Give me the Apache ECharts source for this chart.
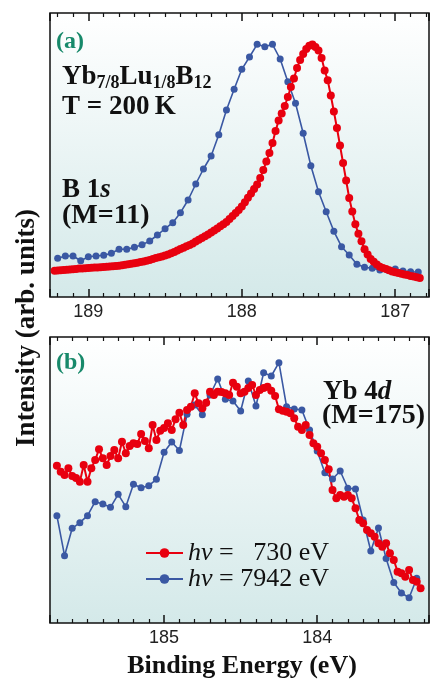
<!DOCTYPE html>
<html><head><meta charset="utf-8">
<script src="https://cdn.jsdelivr.net/npm/echarts@6/dist/echarts.min.js"></script>
<style>html,body{margin:0;padding:0;background:#fff}#c{width:436px;height:682px}</style>
</head><body><div id="c"></div>
<script>
// ---- Panel (a): B 1s ----
const energyA_blue = [189.2,189.15,189.1,189.05,189,188.95,188.9,188.85,188.8,188.75,
188.7,188.65,188.6,188.55,188.5,188.45,188.4,188.35,188.3,188.25,
188.2,188.15,188.1,188.05,188,187.95,187.9,187.85,187.8,187.75,
187.7,187.65,187.6,187.55,187.5,187.45,187.4,187.35,187.3,187.25,
187.2,187.15,187.1,187.05,187,186.95,186.9,186.85];
const intensityA_blue = [38.7,41,41,36.3,40.3,41,41.7,43.7,47.7,47.7,
49.7,52.3,56,62,68.3,74.3,84.3,97,113,128,
141,162.3,187,207.7,227.7,240,252.7,250.3,252.7,238,
215.3,193.7,163.7,131.3,105.3,85.3,65.7,50.3,42,32.7,
29.7,28.7,27,27,28,26,25.3,25];
const energyA_red = [189.22,189.2,189.18,189.16,189.14,189.12,189.1,189.08,189.06,189.04,
189.02,189,188.98,188.96,188.94,188.92,188.9,188.88,188.86,188.84,
188.82,188.8,188.78,188.76,188.74,188.72,188.7,188.68,188.66,188.64,
188.62,188.6,188.58,188.56,188.54,188.52,188.5,188.48,188.46,188.44,
188.42,188.4,188.38,188.36,188.34,188.32,188.3,188.28,188.26,188.24,
188.22,188.2,188.18,188.16,188.14,188.12,188.1,188.08,188.06,188.04,
188.02,188,187.98,187.96,187.94,187.92,187.9,187.88,187.86,187.84,
187.82,187.8,187.78,187.76,187.74,187.72,187.7,187.68,187.66,187.64,
187.62,187.6,187.58,187.56,187.54,187.52,187.5,187.48,187.46,187.44,
187.42,187.4,187.38,187.36,187.34,187.32,187.3,187.28,187.26,187.24,
187.22,187.2,187.18,187.16,187.14,187.12,187.1,187.08,187.06,187.04,
187.02,187,186.98,186.96,186.94,186.92,186.9,186.88,186.86,186.84];
const intensityA_red = [26.3,26.5,26.7,27,27.3,27.5,27.8,28.1,28.4,28.6,
28.8,29,29.2,29.4,29.6,29.8,30.1,30.3,30.5,30.7,
31,31.3,31.8,32.3,32.8,33.3,33.8,34.3,34.9,35.5,
36.3,37.1,38,38.9,39.8,40.6,41.5,42.5,43.8,45.1,
46.5,47.9,49.3,50.8,52,53.6,55.4,57.2,59,60.8,
62.6,64.4,66.5,68.6,70.7,72.8,75,78,81,84,
87,90.5,94.8,99.2,103.5,108,112.5,119,127,135.5,
144,154,166,176.5,183.5,191,200,210,218.5,229,
237,243,248,251.3,252.6,250,246.5,239,226.5,216.7,
201.5,185.5,169,151.5,134,116.5,99,85.5,72.7,63.3,
55.7,47.7,42.5,38,35.3,32.5,30.3,29,27.9,26.8,
25.6,24.8,24,23.3,22.6,21.9,21.1,20.4,19.7,19.1];

// ---- Panel (b): Yb 4d ----
const energyB_blue = [185.7,185.65,185.6,185.55,185.5,185.45,185.4,185.35,185.3,185.25,
185.2,185.15,185.1,185.05,185,184.95,184.9,184.85,184.8,184.75,
184.7,184.65,184.6,184.55,184.5,184.45,184.4,184.35,184.3,184.25,
184.2,184.15,184.1,184.05,184,183.95,183.9,183.85,183.8,183.75,
183.7,183.65,183.6,183.55,183.5,183.45,183.4,183.35];
const intensityB_blue = [107.3,67.3,94.7,100.3,107.3,121.3,119,115.7,128.7,116.3,
138.7,135.3,137.3,143.7,170.7,181,172.5,208.7,218,208.3,
228,244,223.7,222,212,242,217,250.3,247,260.3,
216.3,214,213,193,172,150.3,144,152,134.7,134,
103,72,95,64.5,40.5,30,25.3,44.7];
const energyB_red = [185.7,185.675,185.65,185.625,185.6,185.575,185.55,185.525,185.5,185.475,
185.45,185.425,185.4,185.375,185.35,185.325,185.3,185.275,185.25,185.225,
185.2,185.175,185.15,185.125,185.1,185.075,185.05,185.025,185,184.975,
184.95,184.925,184.9,184.875,184.85,184.825,184.8,184.775,184.75,184.725,
184.7,184.675,184.65,184.625,184.6,184.575,184.55,184.525,184.5,184.475,
184.45,184.425,184.4,184.375,184.35,184.325,184.3,184.275,184.25,184.225,
184.2,184.175,184.15,184.125,184.1,184.075,184.05,184.025,184,183.975,
183.95,183.925,183.9,183.875,183.85,183.825,183.8,183.775,183.75,183.725,
183.7,183.675,183.65,183.625,183.6,183.575,183.55,183.525,183.5,183.475,
183.45,183.425,183.4,183.375,183.35,183.325];
const intensityB_red = [157.3,151.3,148,154.7,147,145,141.3,158,141.3,154.7,
163,173.7,164.7,158,167,173,164.7,181.3,169.7,177,
179.7,179,189,182,174.7,198,183,192.3,195,199.7,
193,203.7,210.3,198,213,216.3,229.7,219.7,214.7,220.3,
231.3,228,231.3,231,229.7,228,240.3,236.3,229.7,231.3,
235,238,228,233,235,236.3,232.3,227,213.7,212.3,
211.3,209.7,204.7,196.3,193,198,188,179.7,176.3,169.7,
163,153.7,133,124.7,128,126.3,128,124.7,114.7,103,
99.7,93,89.7,86.3,79.7,76.3,79.7,69.7,63,51.3,
49.7,46.3,53,43,41.3,34.7];

const tickLabelsA = ['189','188','187'];
const tickLabelsB = ['185','184'];
const photonEnergies = ['730','7942'];

const RED = '#e8000f', BLUE = '#3a58a3';
const SERIF = 'Liberation Serif';

const chart = echarts.init(document.getElementById('c'), null, {renderer:'canvas'});
const bg = () => new echarts.graphic.LinearGradient(0,0,0,1,[{offset:0,color:'#ffffff'},{offset:1,color:'#d4e9e9'}]);

function xAx(grid, min, max, pos, labels) {
  return {
    type:'value', gridIndex:grid, min:min, max:max, inverse:true, position:pos,
    splitNumber:2, minInterval:1, maxInterval:1,
    axisLine:{show:false},
    axisTick:{show:true, inside:true, length:8, lineStyle:{color:'#111', width:1.5}},
    minorTick:{show:true, splitNumber:10, length:4, lineStyle:{color:'#111', width:1.2}},
    splitLine:{show:false}, minorSplitLine:{show:false},
    axisLabel:{show:!!labels, margin:6, fontFamily:'Liberation Sans', fontSize:18, color:'#222',
      formatter: v => { const s = String(Math.round(v)); return (labels && Math.abs(v-Math.round(v))<1e-6 && labels.indexOf(s)>=0) ? s : ''; }}
  };
}
function mk(x, y) { return x.map((e,i)=>[e, y[i]]); }
function ser(name, xi, yi, x, y, color, size, w) {
  return {type:'line', name:name, xAxisIndex:xi, yAxisIndex:yi, data:mk(x,y),
    symbol:'circle', symbolSize:size, showSymbol:true, showAllSymbol:true,
    itemStyle:{color:color}, lineStyle:{color:color, width:w}, animation:false, z:3};
}
const base = {fontFamily:SERIF, fontWeight:'bold', fontSize:27, fill:'#111'};
function T(x, y, text, rich, fs) {
  return {type:'text', x:x, y:y, z:100, silent:true,
    style:Object.assign({}, base, {text:text, align:'left', verticalAlign:'middle', rich:rich||{}}, fs?{fontSize:fs}:{})};
}
const subRich = {
  m:{fontFamily:SERIF, fontWeight:'bold', fontSize:27, fill:'#111', lineHeight:30, verticalAlign:'middle'},
  s:{fontFamily:SERIF, fontWeight:'bold', fontSize:18, fill:'#111', lineHeight:12, verticalAlign:'bottom'},
  i:{fontFamily:SERIF, fontWeight:'bold', fontStyle:'italic', fontSize:27, fill:'#111', lineHeight:30, verticalAlign:'middle'}
};
function panelLabel(x, y, t) {
  return {type:'text', x:x, y:y, z:100, silent:true,
    style:Object.assign({}, base, {text:t, fontSize:24, fill:'#17896a', align:'left', verticalAlign:'middle'})};
}

chart.setOption({
  animation:false,
  backgroundColor:'#ffffff',
  grid:[
    {left:50, top:13, width:379, height:284, show:true, backgroundColor:bg(), borderColor:'#111', borderWidth:1.5},
    {left:50, top:337, width:379, height:286, show:true, backgroundColor:bg(), borderColor:'#111', borderWidth:1.5}
  ],
  xAxis:[
    xAx(0, 186.78, 189.25, 'bottom', tickLabelsA),
    xAx(0, 186.78, 189.25, 'top', null),
    xAx(1, 183.27, 185.745, 'bottom', tickLabelsB),
    xAx(1, 183.27, 185.745, 'top', null)
  ],
  yAxis:[
    {type:'value', gridIndex:0, min:0, max:284, show:false},
    {type:'value', gridIndex:1, min:0, max:286, show:false}
  ],
  legend:{
    left:145, top:540, orient:'vertical', padding:0, itemGap:0, itemWidth:37, itemHeight:12,
    selectedMode:false, data:photonEnergies,
    formatter: n => '{i|hν} = ' + (n.length < 4 ? '\u2007' : '') + n + ' eV',
    textStyle:{fontFamily:SERIF, fontSize:26, color:'#111',
      rich:{i:{fontFamily:SERIF, fontStyle:'italic', fontSize:26, color:'#111'}}}
  },
  series:[
    ser('7942', 0, 0, energyA_blue, intensityA_blue, BLUE, 7, 1.6),
    ser('730', 0, 0, energyA_red, intensityA_red, RED, 8, 2),
    ser('7942', 2, 1, energyB_blue, intensityB_blue, BLUE, 7, 1.6),
    ser('730', 2, 1, energyB_red, intensityB_red, RED, 8, 2)
  ],
  graphic:[
    panelLabel(56, 42, '(a)'),
    T(62, 77, '{m|Yb}{s|7/8}{m|Lu}{s|1/8}{m|B}{s|12}', subRich),
    T(62, 107, 'T = 200\u2009K'),
    T(62, 190, '{m|B 1}{i|s}', subRich),
    T(62, 216, '(M=11)', null, 28),
    panelLabel(56, 363, '(b)'),
    T(323, 392, '{m|Yb 4}{i|d}', subRich),
    T(322, 416, '(M=175)', null, 28),
    {type:'text', x:27, y:328, rotation:Math.PI/2, z:100, silent:true,
      style:Object.assign({}, base, {text:'Intensity (arb. units)', align:'center', verticalAlign:'middle'})},
    {type:'text', x:242, y:666, z:100, silent:true,
      style:Object.assign({}, base, {text:'Binding Energy (eV)', fontSize:26, align:'center', verticalAlign:'middle'})}
  ]
});
</script></body></html>
